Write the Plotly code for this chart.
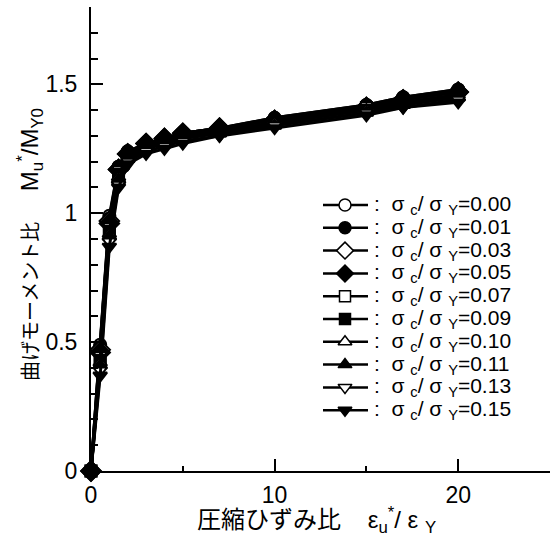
import plotly.graph_objects as go

# ---- data ----
strain = [0, 0.5, 1, 1.5, 2, 3, 4, 5, 7, 10, 15, 17, 20]
ratio_labels = ["0.00", "0.01", "0.03", "0.05", "0.07", "0.09", "0.10", "0.11", "0.13", "0.15"]

m_000 = [0, 0.49, 0.99, 1.18, 1.24, 1.27, 1.29, 1.31, 1.33, 1.37, 1.42, 1.45, 1.48]
m_001 = [0, 0.48, 0.98, 1.18, 1.24, 1.27, 1.29, 1.31, 1.33, 1.37, 1.42, 1.45, 1.48]
m_003 = [0, 0.47, 0.97, 1.17, 1.23, 1.27, 1.29, 1.31, 1.33, 1.36, 1.41, 1.44, 1.47]
m_005 = [0, 0.46, 0.96, 1.17, 1.23, 1.27, 1.29, 1.31, 1.33, 1.36, 1.41, 1.44, 1.47]
m_007 = [0, 0.44, 0.94, 1.16, 1.22, 1.26, 1.28, 1.30, 1.32, 1.35, 1.41, 1.43, 1.46]
m_009 = [0, 0.43, 0.93, 1.15, 1.22, 1.26, 1.28, 1.30, 1.32, 1.35, 1.40, 1.43, 1.46]
m_010 = [0, 0.42, 0.92, 1.14, 1.21, 1.25, 1.27, 1.29, 1.31, 1.35, 1.40, 1.42, 1.45]
m_011 = [0, 0.41, 0.91, 1.13, 1.21, 1.25, 1.27, 1.29, 1.31, 1.34, 1.39, 1.42, 1.45]
m_013 = [0, 0.39, 0.89, 1.11, 1.20, 1.24, 1.26, 1.28, 1.30, 1.34, 1.39, 1.41, 1.44]
m_015 = [0, 0.37, 0.87, 1.10, 1.19, 1.23, 1.25, 1.27, 1.30, 1.33, 1.38, 1.41, 1.43]

series = [m_000, m_001, m_003, m_005, m_007, m_009, m_010, m_011, m_013, m_015]
symbols = ["circle", "circle", "diamond", "diamond", "square", "square",
           "triangle-up", "triangle-up", "triangle-down", "triangle-down"]
fills = ["white", "black"] * 5
sizes = [12, 12, 15, 15, 11, 11, 12, 12, 12, 12]

# ---- layout constants (pixels) ----
W, H = 557, 537
L, R, T, B = 91, 7, 7, 66
PW, PH = W - L - R, H - T - B
FONT = "Liberation Sans, Arial, Noto Sans CJK JP"


def px_x(p):
    return (p - L) / PW


def px_y(p):
    return (H - B - p) / PH


fig = go.Figure()

for ys, sym, fc, sz, lab in zip(series, symbols, fills, sizes, ratio_labels):
    fig.add_trace(go.Scatter(
        x=strain, y=ys, mode="lines+markers", name=lab, showlegend=False,
        line=dict(color="black", width=3),
        marker=dict(symbol=sym, size=sz, color=fc, line=dict(color="black", width=2)),
        cliponaxis=False,
    ))

# ---- hand-made legend (tight row spacing as in the reference) ----
ROW0, ROWGAP = 205, 22.8
KEY_X0, KEY_XM, KEY_X1 = 323, 345, 368
TEXT_X = 372
annotations = []
for i, (sym, fc, sz, lab) in enumerate(zip(symbols, fills, sizes, ratio_labels)):
    ry = ROW0 + i * ROWGAP
    fig.add_trace(go.Scatter(
        x=[KEY_X0, KEY_X1], y=[ry, ry], mode="lines", xaxis="x2", yaxis="y2",
        showlegend=False, hoverinfo="skip", line=dict(color="black", width=2.5),
    ))
    fig.add_trace(go.Scatter(
        x=[KEY_XM], y=[ry], mode="markers", xaxis="x2", yaxis="y2",
        showlegend=False, hoverinfo="skip",
        marker=dict(symbol=sym, size=min(sz, 13), color=fc, line=dict(color="black", width=1.5)),
    ))
    annotations.append(dict(
        x=px_x(TEXT_X), y=px_y(ry), xref="paper", yref="paper",
        xanchor="left", yanchor="middle", showarrow=False,
        text=":  σ <sub>c</sub>/ σ <sub>Y</sub>=" + lab,
        font=dict(family=FONT, size=21, color="black"),
    ))

# axis titles
annotations.append(dict(
    x=px_x(30), y=px_y(245), xref="paper", yref="paper", showarrow=False,
    textangle=-90, xanchor="center", yanchor="middle",
    text=("曲げモーメント比"
          "<span style='font-size:24px'>　 M<sub>u</sub><sup>*</sup>/M<sub>Y0</sub></span>"),
    font=dict(family=FONT, size=20, color="black"),
))
annotations.append(dict(
    x=px_x(316), y=px_y(520), xref="paper", yref="paper", showarrow=False,
    xanchor="center", yanchor="middle",
    text=("圧縮ひずみ比"
          "<span style='font-size:24px'>    ε<sub>u</sub><sup>*</sup>/ ε <sub>Y</sub></span>"),
    font=dict(family=FONT, size=24, color="black"),
))

fig.update_layout(
    width=W, height=H,
    margin=dict(l=L, r=R, t=T, b=B, pad=0),
    paper_bgcolor="white", plot_bgcolor="white",
    showlegend=False,
    font=dict(family=FONT, size=20, color="black"),
    annotations=annotations,
    xaxis=dict(
        range=[0, 25], showgrid=False, zeroline=False,
        showline=True, linecolor="black", linewidth=2,
        ticks="inside", tickmode="array", tickvals=[0, 10, 20], ticktext=["0", "10", "20"],
        ticklen=12, tickwidth=1.5, tickcolor="black",
        minor=dict(tickvals=[5, 15, 25], ticks="inside", ticklen=5, tickwidth=1.5, tickcolor="black"),
        tickfont=dict(family=FONT, size=23),
        ticklabelstandoff=2,
    ),
    yaxis=dict(
        range=[0, 1.8], showgrid=False, zeroline=False,
        showline=True, linecolor="black", linewidth=2,
        ticks="inside", tickmode="array", tickvals=[0, 0.5, 1, 1.5], ticktext=["0", "0.5", "1", "1.5"],
        ticklen=12, tickwidth=1.5, tickcolor="black",
        minor=dict(dtick=0.1, tick0=0, ticks="inside", ticklen=7, tickwidth=1.5, tickcolor="black"),
        tickfont=dict(family=FONT, size=23),
        ticklabelstandoff=7,
    ),
    xaxis2=dict(range=[L, W - R], overlaying="x", visible=False, fixedrange=True),
    yaxis2=dict(range=[H - B, T], overlaying="y", visible=False, fixedrange=True),
)

fig.write_html(
    "out.html",
    config={"displayModeBar": False},
    post_script="document.body.style.margin='0';document.body.style.overflow='hidden';",
)
